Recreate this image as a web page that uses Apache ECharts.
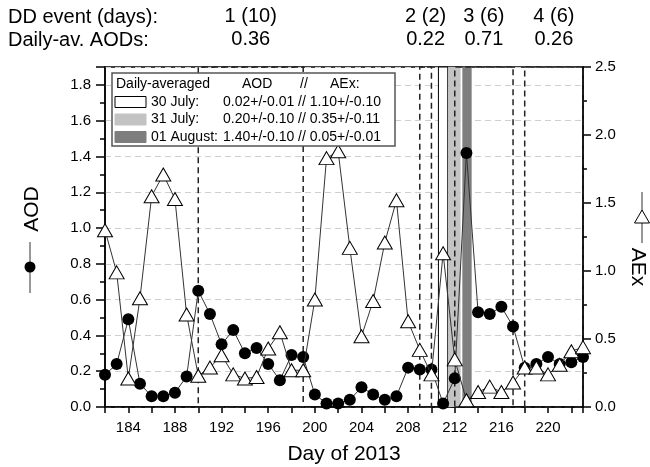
<!DOCTYPE html>
<html>
<head>
<meta charset="utf-8">
<script src="https://cdn.jsdelivr.net/npm/echarts@6/dist/echarts.min.js"></script>
<style>
	html,body{margin:0;padding:0;background:#fff;}
	#dustContainer{width:650px;height:467px;}
</style>
</head>
<body>
<div id="dustContainer"></div>
<script>
// day of year 2013
var days = [182,183,184,185,186,187,188,189,190,191,192,193,194,195,196,197,198,199,200,201,202,
	203,204,205,206,207,208,209,210,211,212,213,214,215,216,217,218,219,220,221,222,223];
var aod = [0.18,0.24,0.49,0.13,0.06,0.06,0.08,0.17,0.65,0.52,0.35,0.43,0.30,0.33,0.24,0.15,0.29,0.28,0.07,0.02,0.02,
	0.04,0.11,0.07,0.04,0.06,0.22,0.21,0.21,0.02,0.16,1.42,0.53,0.52,0.56,0.45,0.22,0.24,0.28,0.24,0.25,0.28];
var aex = [1.30,0.99,0.21,0.80,1.55,1.71,1.53,0.68,0.23,0.29,0.38,0.24,0.21,0.22,0.43,0.55,0.27,0.27,0.79,1.83,1.88,
	1.17,0.52,0.78,1.21,1.52,0.63,0.42,0.24,1.13,0.35,0.05,0.11,0.15,0.11,0.18,0.29,0.29,0.24,0.31,0.41,0.44];

// DD events
var eventNames = ['1 (10)','2 (2)','3 (6)','4 (6)'];
var eventAods = ['0.36','0.22','0.71','0.26'];
var eventStart = [190,209,212,218];
var eventEnd = [199,210,217,223];

// highlighted days
var bandNames = ['30 July:','31 July:','01 August:'];
var bandAod = ['0.02+/-0.01','0.20+/-0.10','1.40+/-0.10'];
var bandAex = ['1.10+/-0.10','0.35+/-0.11','0.05+/-0.01'];
var bandStart = [210.6,211.45,212.65];
var bandEnd = [211.4,212.5,213.45];
var bandColors = ['#ffffff','#c3c3c3','#7e7e7e'];

var FONT = '"Liberation Sans", Arial, sans-serif';

var aodData = [], aexData = [];
for(var i = 0;i<days.length;i++){
	aodData.push([days[i], aod[i]]);
	aexData.push([days[i], aex[i]]);
}

var eventAreas = [];
for(var i = 0;i<eventNames.length;i++){
	eventAreas.push([{
		xAxis: eventStart[i],
		label: {formatter: eventNames[i] + '\n' + eventAods[i]}
	},{xAxis: eventEnd[i]}]);
}

var bandAreas = [];
for(var i = 0;i<bandNames.length;i++){
	bandAreas.push([{
		xAxis: bandStart[i],
		itemStyle: {color: bandColors[i], borderColor: i == 0 ? '#000' : bandColors[i], borderWidth: i == 0 ? 1 : 0}
	},{xAxis: bandEnd[i]}]);
}

function txt(x, y, s, size, extra){
	var el = {type:'text', x:x, y:y, z:100,
		style:{text:s, font:size + 'px ' + FONT, fill:'#000', verticalAlign:'middle', textVerticalAlign:'middle'}};
	if(extra){
		for(var k in extra){ el[k] = extra[k]; }
		el.style.align = 'center';
		el.style.textAlign = 'center';
	}
	return el;
}

var graphics = [
	txt(8, 17, 'DD event (days):', 20),
	txt(8, 40, 'Daily-av. AODs:', 20),
	// left axis name + symbol
	txt(32, 209, 'AOD', 21, {rotation: Math.PI/2}),
	{type:'line', z:100, shape:{x1:30,y1:242,x2:30,y2:293}, style:{stroke:'#333', lineWidth:1}},
	{type:'circle', z:101, shape:{cx:30,cy:267,r:5.5}, style:{fill:'#000'}},
	// right axis name + symbol
	txt(638, 267, 'AEx', 21, {rotation: -Math.PI/2}),
	{type:'line', z:100, shape:{x1:642,y1:192,x2:642,y2:243}, style:{stroke:'#333', lineWidth:1}},
	{type:'polygon', z:101, shape:{points:[[642,210],[634.5,223],[649.5,223]]}, style:{fill:'#fff', stroke:'#000', lineWidth:1}}
];

// legend box
graphics.push({type:'rect', z:100, shape:{x:112,y:73,width:283,height:73}, style:{fill:'#fff', stroke:'#555', lineWidth:1.5}});
graphics.push(txt(116, 84, 'Daily-averaged', 14));
graphics.push(txt(242, 84, 'AOD', 14));
graphics.push(txt(300, 84, '//', 14));
graphics.push(txt(330, 84, 'AEx:', 14));
for(var i = 0;i<bandNames.length;i++){
	var ry = 102 + i*17.5;
	graphics.push({type:'rect', z:101, shape:{x:115,y:ry-5.5,width:31,height:11},
		style:{fill:bandColors[i], stroke: i == 0 ? '#000' : bandColors[i], lineWidth:1}});
	graphics.push(txt(151, ry, bandNames[i], 14));
	graphics.push(txt(223, ry, bandAod[i] + ' // ' + bandAex[i], 14));
}

var myChart = echarts.init(document.getElementById('dustContainer'));
var option = {
	animation: false,
	textStyle: {fontFamily: FONT},
	grid: {
		left: 105, right: 67, top: 67, bottom: 60,
		outerBoundsMode: 'none',
		show: true, borderColor: '#000', borderWidth: 1.5, backgroundColor: 'transparent'
	},
	xAxis: {
		type: 'value', min: 182, max: 223, interval: 2,
		name: 'Day of 2013', nameLocation: 'middle', nameGap: 37,
		nameTextStyle: {fontSize: 21, color: '#000'},
		axisLine: {lineStyle: {color: '#000', width: 1.5}},
		axisTick: {show: true, length: 6, lineStyle: {color: '#000', width: 1.5}},
		axisLabel: {
			color: '#000', fontSize: 15, margin: 13,
			formatter: function(v){ return (v - 184) % 4 === 0 ? String(v) : ''; }
		},
		splitLine: {show: false}
	},
	yAxis: [{
		type: 'value', min: 0, max: 1.9, interval: 0.2, position: 'left',
		axisLine: {show: true, lineStyle: {color: '#000', width: 1.5}},
		axisTick: {show: true, length: 9, lineStyle: {color: '#000', width: 1.5}},
		minorTick: {show: true, splitNumber: 2, length: 5, lineStyle: {color: '#000', width: 1.5}},
		axisLabel: {
			color: '#000', fontSize: 15, margin: 14,
			formatter: function(v){ return v > 1.85 ? '' : v.toFixed(1); }
		},
		splitLine: {show: true, lineStyle: {color: '#cfcfcf', type: [6,4], width: 1.2}}
	},{
		type: 'value', min: 0, max: 2.5, interval: 0.5, position: 'right',
		axisLine: {show: true, lineStyle: {color: '#000', width: 1.5}},
		axisTick: {show: true, length: 8, lineStyle: {color: '#000', width: 1.5}},
		minorTick: {show: true, splitNumber: 2, length: 4, lineStyle: {color: '#000', width: 1.5}},
		axisLabel: {
			color: '#000', fontSize: 15, margin: 12,
			formatter: function(v){ return v.toFixed(1); }
		},
		splitLine: {show: false}
	}],
	graphic: graphics,
	series: [{
		name: 'bands', type: 'line', data: [], z: 1, silent: true,
		markArea: {silent: true, data: bandAreas}
	},{
		name: 'events', type: 'line', data: [], z: 2, silent: true,
		markArea: {
			silent: true,
			itemStyle: {color: 'rgba(0,0,0,0)', borderColor: '#222', borderWidth: 1.5, borderType: [6,4]},
			label: {show: true, position: 'top', distance: 15, color: '#000', fontSize: 20, lineHeight: 23, align: 'center'},
			data: eventAreas
		}
	},{
		name: 'AOD', type: 'line', yAxisIndex: 0, z: 3,
		data: aodData,
		symbol: 'circle', symbolSize: 12,
		itemStyle: {color: '#000'},
		lineStyle: {color: '#333', width: 1}
	},{
		name: 'AEx', type: 'line', yAxisIndex: 1, z: 4,
		data: aexData,
		symbol: 'triangle', symbolSize: [15,13],
		itemStyle: {color: '#fff', borderColor: '#000', borderWidth: 1},
		lineStyle: {color: '#333', width: 1}
	}]
};
myChart.setOption(option);
</script>
</body>
</html>
